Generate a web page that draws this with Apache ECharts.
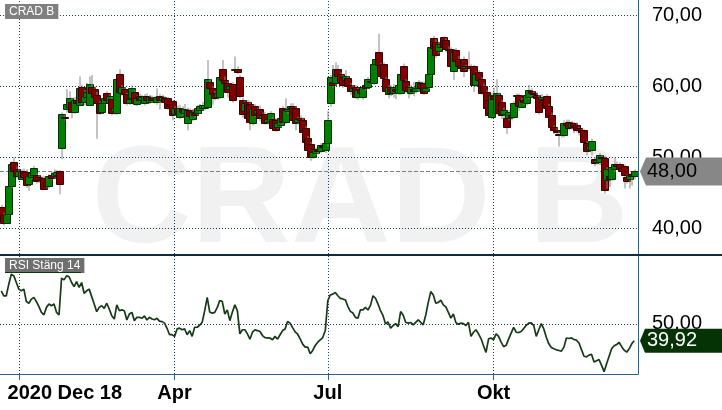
<!DOCTYPE html>
<html>
<head>
<meta charset="utf-8">
<script src="https://cdn.jsdelivr.net/npm/echarts@6/dist/echarts.min.js"></script>
<style>
html,body{margin:0;padding:0;background:#fff;}
#c{width:722px;height:410px;}
</style>
</head>
<body>
<div id="c"></div>
<script>
// ---- data ----
const startDate = '2020-12-18';
const endDate = '2021-12-21';
const holidays = ['2020-12-24','2020-12-25','2020-12-31','2021-01-01','2021-01-06','2021-04-02','2021-04-05','2021-05-13','2021-06-25'];
const tickDates = ['2021-01-04','2021-04-01','2021-07-01','2021-10-01'];
const tickTexts = ['2020 Dec 18','Apr','Jul','Okt'];
const priceTicks = [40,50,60,70];
const rsiTicks = [50];

const open = [
43.0,41.9,40.8,42.0,45.9,49.3,48.4,47.4,47.0,48.0,
47.9,46.2,47.2,47.5,47.5,47.2,46.8,47.1,46.5,45.9,
47.5,47.3,47.5,48.0,51.3,55.7,56.8,57.1,57.8,56.4,
58.0,57.4,59.9,57.8,58.5,57.4,59.9,59.6,58.8,57.6,
56.4,57.7,59.0,57.6,58.2,56.5,56.2,61.7,59.0,59.6,
58.9,57.7,58.4,59.2,57.5,58.7,58.0,57.6,58.7,57.8,
58.4,58.2,57.8,58.6,58.0,58.3,58.3,57.5,57.9,56.1,
56.9,55.7,56.8,56.2,54.8,56.6,55.4,56.3,56.2,56.6,
57.0,57.0,57.1,60.6,59.7,59.0,58.5,58.5,62.4,60.9,
60.4,59.6,60.3,62.3,62.5,61.3,58.1,56.5,57.8,57.5,
54.8,57.2,56.2,56.8,55.6,56.1,55.0,55.0,55.4,55.2,
54.3,54.5,56.9,55.0,56.5,56.9,57.2,56.9,55.0,55.6,
55.3,54.1,52.7,51.9,50.1,50.6,51.0,50.9,51.6,51.0,
52.0,57.6,60.6,60.4,62.4,61.8,61.3,60.9,61.1,60.2,
59.4,59.9,58.5,59.6,58.5,60.2,59.9,60.8,60.5,63.1,
64.9,63.0,63.1,61.0,58.9,59.9,59.0,59.6,59.1,59.1,
62.8,60.7,59.9,59.1,59.6,59.3,59.7,60.4,60.4,59.4,
59.9,61.7,66.8,66.3,65.0,65.6,66.9,66.5,65.1,65.2,
62.1,65.1,63.9,63.0,63.9,62.6,62.9,62.9,62.8,60.2,
62.0,61.0,60.0,59.2,58.1,55.7,58.6,56.3,58.8,57.8,
56.1,55.5,55.5,56.0,55.7,58.7,58.8,57.1,58.0,57.6,
58.5,59.4,59.0,58.8,58.5,58.2,58.2,58.6,57.2,56.0,
54.2,53.8,53.3,53.1,53.1,54.9,55.0,54.3,54.8,54.5,
54.1,53.8,53.8,52.0,51.2,51.0,49.7,49.4,49.4,50.0,
49.9,46.8,47.4,47.0,48.3,49.1,49.0,48.5,48.8,47.2,
46.9,47.6,47.3
];
const close = [
41.2,40.7,42.0,45.9,49.0,48.1,47.4,48.0,48.0,47.2,
46.1,47.3,47.8,48.5,46.6,46.8,47.0,45.5,45.9,47.3,
47.1,47.8,47.9,46.3,56.1,55.5,57.5,58.3,56.4,58.1,
57.6,59.7,57.8,58.6,59.2,60.3,59.0,58.5,57.6,56.3,
57.6,58.3,58.1,58.6,56.2,57.0,61.0,59.2,59.9,58.9,
57.6,58.2,59.8,57.6,58.4,58.1,58.5,58.6,58.1,58.5,
58.0,58.3,58.5,58.0,58.5,57.8,57.0,57.2,55.9,56.9,
56.2,57.0,56.4,56.8,56.7,55.8,56.4,56.0,57.0,57.2,
57.3,57.4,61.0,59.7,58.9,58.4,59.0,61.3,60.9,60.5,
59.2,60.0,58.0,62.5,62.0,58.6,56.1,57.6,55.6,55.0,
57.0,56.0,56.6,55.5,55.9,54.9,55.4,56.2,54.1,53.9,
54.8,55.6,55.0,56.7,56.8,57.2,55.3,54.8,55.4,55.3,
53.5,52.2,51.0,50.0,50.8,51.1,50.9,51.7,51.4,52.0,
55.3,61.3,60.2,62.5,61.4,60.6,60.2,61.4,60.0,59.4,
59.8,58.5,59.5,59.0,59.9,59.8,61.0,60.6,63.2,63.8,
63.0,61.5,61.1,59.4,59.9,59.1,59.9,59.3,60.2,61.7,
60.9,59.5,59.3,59.9,59.4,59.7,60.6,59.7,59.1,59.8,
61.8,65.5,65.4,64.4,66.0,65.9,65.5,65.2,65.3,62.8,
64.9,63.5,62.8,62.6,62.1,62.9,62.6,62.6,60.2,61.8,
60.9,59.1,59.2,56.9,56.0,58.8,58.2,59.0,56.2,56.0,
56.6,54.3,56.4,55.7,57.6,58.8,57.2,58.1,57.8,58.8,
59.5,59.1,58.9,58.3,56.4,58.5,58.0,57.0,55.7,54.2,
53.8,53.5,53.1,53.3,54.9,54.5,54.1,54.9,54.4,53.8,
53.8,53.6,52.1,50.9,51.6,52.3,49.2,49.6,50.3,49.9,
45.4,48.3,47.0,48.6,49.1,48.8,48.3,48.0,47.5,46.6,
47.5,47.4,48.0
];
const low = [
41.0,40.4,40.6,41.8,45.6,47.8,47.0,47.1,46.8,46.9,
45.7,45.3,46.9,47.2,46.3,46.4,46.5,45.4,45.6,45.6,
46.8,47.0,47.2,44.8,49.7,55.2,56.3,56.9,55.5,56.1,
57.2,57.2,57.5,57.3,58.0,57.2,58.5,58.2,52.6,56.0,
56.1,57.4,57.8,57.3,55.9,56.0,56.0,59.0,58.7,58.6,
57.3,57.4,58.1,57.3,57.2,57.8,57.5,57.3,57.6,57.5,
57.7,57.6,57.4,56.7,57.7,57.5,56.7,56.5,55.2,55.8,
55.9,55.4,55.8,55.9,53.8,55.3,55.1,55.6,55.9,56.2,
56.7,56.6,56.9,59.4,57.4,58.0,58.1,58.2,60.5,60.1,
58.4,58.0,57.7,62.0,61.7,58.3,55.6,56.1,55.3,53.8,
54.5,55.7,55.8,55.1,55.2,54.6,54.6,54.7,53.8,53.6,
54.0,54.2,54.6,54.7,56.1,56.5,54.8,53.8,54.6,54.9,
52.6,51.9,50.7,49.5,49.8,50.3,50.4,50.6,50.9,50.6,
51.5,57.1,59.8,60.1,60.8,60.2,59.8,60.5,59.6,58.8,
59.0,58.2,58.1,58.6,58.1,59.4,59.6,60.2,60.2,62.8,
62.6,61.2,60.5,58.8,58.3,58.6,58.4,58.2,58.8,58.8,
60.5,59.0,58.3,58.8,58.6,59.0,59.2,59.2,58.8,59.1,
59.6,61.4,65.0,64.0,64.6,65.3,65.2,64.8,64.9,62.4,
60.9,63.2,62.5,62.2,61.3,62.3,62.2,62.3,59.2,59.9,
60.6,58.8,58.0,56.4,55.6,55.4,57.2,56.0,55.8,55.4,
55.5,53.3,55.2,55.2,55.4,58.5,56.5,56.9,57.4,57.3,
58.2,58.6,58.5,58.0,56.0,57.9,57.5,56.7,55.0,53.8,
53.3,53.0,51.5,52.8,52.8,54.2,53.8,53.9,53.4,53.5,
53.1,53.2,51.8,50.3,50.8,50.3,48.8,49.0,48.9,49.5,
44.9,45.6,45.8,46.7,47.9,48.4,47.9,47.6,45.6,46.3,
45.6,46.0,46.9
];
const high = [
43.3,42.2,42.2,46.1,49.4,50.0,48.7,48.4,48.3,48.4,
48.3,47.6,48.1,48.8,47.8,47.5,47.3,47.4,46.8,47.6,
48.0,48.3,48.2,48.2,56.3,56.0,59.6,59.3,58.4,58.5,
59.0,61.4,60.2,59.5,60.5,61.4,61.6,60.0,59.2,57.9,
57.9,58.6,59.3,58.9,58.5,57.5,61.3,62.4,60.2,59.9,
59.1,58.6,60.1,59.5,58.7,59.0,58.8,58.9,59.0,58.8,
58.7,58.6,59.7,58.9,58.8,58.6,58.5,57.8,58.1,57.2,
57.3,57.4,57.2,57.5,57.0,56.9,56.8,56.6,57.4,57.5,
57.8,57.8,63.7,61.0,60.0,59.3,59.4,61.6,63.7,61.4,
60.7,60.4,60.6,64.2,62.8,61.6,58.4,58.0,58.1,57.9,
57.3,57.5,57.0,57.3,56.3,56.4,55.8,56.5,55.7,55.5,
55.1,55.9,57.2,58.3,57.2,57.6,57.6,57.2,55.7,55.9,
55.6,54.4,53.0,52.2,51.1,51.4,51.7,52.0,52.0,52.3,
56.5,61.6,63.0,63.4,63.0,62.0,61.6,62.3,61.4,60.5,
60.2,60.2,59.8,59.9,60.2,60.5,61.3,61.2,63.5,64.2,
67.4,63.3,63.4,61.3,60.2,60.2,60.3,60.0,60.5,62.0,
63.2,61.0,60.1,60.2,60.6,60.1,60.9,60.7,60.7,60.1,
62.1,65.8,67.1,66.6,66.3,66.3,67.0,66.8,65.6,65.5,
65.2,65.4,64.3,63.4,64.2,63.0,64.9,63.1,63.0,62.1,
62.3,61.3,60.4,59.5,58.4,59.1,59.8,61.0,59.1,58.1,
57.0,55.8,56.7,56.6,57.9,59.0,59.0,58.4,58.3,59.0,
60.2,59.7,59.3,59.2,58.8,58.9,58.5,58.9,57.5,56.3,
54.5,54.1,53.6,53.6,55.2,55.3,55.3,55.1,55.0,54.9,
54.3,54.0,54.0,52.3,52.0,52.6,50.0,50.0,50.6,50.3,
50.2,48.6,48.0,48.9,50.0,49.4,49.3,48.8,49.0,47.6,
47.8,48.0,48.3
];
const rsi = [
70,67,67,74,80,79,75,71,70,71,
63.5,62.5,65,66,63.5,60.5,57,55.5,60,62,
61,62,57,55.4,77.6,76.6,79,78.5,75,72.5,
75.5,72,75,68.5,70,71,66.5,62,57.4,60,
61,59.4,62.5,59,55,53,61.5,58,58.5,58,
52.4,56,57,52,54,54,53.4,54.8,52.4,54,
53,52.5,53.4,51.7,51.4,50.5,47.4,43.5,43.5,42.5,
47,47.5,46.5,47,43.5,46,42.5,48,48,49.2,
51,58,66,57.2,56.5,57,60,64.2,63.5,56,
58.5,52,57,61.5,58,44,46.5,46.5,44,40.8,
45,46.4,46,45.4,43,41.7,41.6,41.5,40.5,42.5,
40.8,43.5,46,47,51.5,50.5,47.8,45.2,43.8,41,
37.8,36,36,32,34,37,39,40.4,41.8,46,
64,67.5,68,69,67,65.4,65.1,64.5,60.5,57.6,
56.6,54,53.5,58.5,58.5,60,58.4,61.2,67,65.5,
62,58,55,50,51.2,47.5,49,50.2,48.4,57.5,
55.4,51,50.5,50.9,49.5,51,52.5,51,49.5,55.4,
63,69.5,67.5,62.5,63,64.3,61.5,60.3,57,53.5,
56,50.8,49.8,50.5,50.2,49,51,42.5,45,46.5,
44,41.2,36.8,32.8,41,41.5,40.5,44,42.5,39,
36.3,37.1,41,44.5,48,45,44.8,45.4,47.2,49.2,
50.5,50.7,49,42.5,46.5,50.2,47,42,38,35.8,
35,34.4,34,33.6,36,41.5,41.2,41.6,40.6,40.2,
38.5,34.5,30.5,30.1,31.2,31.7,27,27.8,28.5,25,
21.2,26,30.5,35,36.8,37.6,38.8,36.3,34.2,33,
35,38,39.92
];

// ---- categories (trading days) ----
function tradingDays(s, e, hol) {
  const out = [];
  const d = new Date(s + 'T00:00:00Z');
  const end = new Date(e + 'T00:00:00Z');
  while (d <= end) {
    const wd = d.getUTCDay();
    const str = d.toISOString().slice(0, 10);
    if (wd !== 0 && wd !== 6 && hol.indexOf(str) < 0) out.push(str);
    d.setUTCDate(d.getUTCDate() + 1);
  }
  return out;
}
const dates = tradingDays(startDate, endDate, holidays);

const candleData = open.map((o, i) => [i, o, close[i], low[i], high[i]]);
const fmt = v => Number(v).toFixed(2).replace('.', ',');
const isTick = (i, v) => tickDates.indexOf(v) >= 0;

const FONT = 'Liberation Sans, Arial, sans-serif';
const gridColor = '#1c3a57';
const axisColor = '#2f5f8f';

const chart = echarts.init(document.getElementById('c'), null, {renderer: 'canvas'});

const option = {
  animation: false,
  backgroundColor: '#ffffff',
  grid: [
    {left: 0, top: 0, width: 638, height: 254},
    {left: 0, top: 256, width: 638, height: 118}
  ],
  xAxis: [
    {type: 'category', gridIndex: 0, data: dates, boundaryGap: true,
     axisLine: {show: false}, axisTick: {show: false}, axisLabel: {show: false}, splitLine: {show: false}},
    {type: 'category', gridIndex: 1, data: dates, boundaryGap: true,
     axisLine: {show: true, lineStyle: {color: axisColor, width: 1}},
     axisTick: {show: true, alignWithLabel: true, interval: isTick, length: 6, lineStyle: {color: axisColor}},
     axisLabel: {interval: isTick, margin: 9, fontFamily: FONT, fontSize: 20, fontWeight: 'bold', color: '#000',
       formatter: function (v) {
         const k = tickDates.indexOf(v);
         if (k < 0) return '';
         return k === 0 ? '{first|' + tickTexts[k] + '}' : tickTexts[k];
       },
       rich: {first: {fontFamily: FONT, fontSize: 20, fontWeight: 'bold', color: '#000', padding: [0, 0, 0, 92]}}},
     splitLine: {show: false}}
  ],
  yAxis: [
    {type: 'value', gridIndex: 0, position: 'right', min: 36.38, max: 72.155, scale: true,
     axisLine: {show: true, lineStyle: {color: axisColor, width: 1}}, axisTick: {show: false}, splitLine: {show: false},
     axisLabel: {customValues: priceTicks, formatter: fmt, margin: 14, fontFamily: FONT, fontSize: 20, color: '#000'}},
    {type: 'value', gridIndex: 1, position: 'right', min: 19.8, max: 91.0, scale: true,
     axisLine: {show: true, lineStyle: {color: axisColor, width: 1}}, axisTick: {show: false}, splitLine: {show: false},
     axisLabel: {customValues: rsiTicks, formatter: fmt, margin: 14, fontFamily: FONT, fontSize: 20, color: '#000'}}
  ],
  series: [
    {type: 'line', xAxisIndex: 0, yAxisIndex: 0, data: [], z: 1, silent: true,
     markLine: {silent: true, symbol: 'none', z: 1, label: {show: false}, animation: false,
       data: priceTicks.map(v => ({yAxis: v, lineStyle: {color: gridColor, type: [1, 2], width: 1}}))
         .concat(tickDates.map(d => ({xAxis: d, lineStyle: {color: gridColor, type: [1, 2], width: 1}})))
         .concat([{yAxis: close[close.length - 1], lineStyle: {color: '#808080', type: [4, 2], width: 1}}])}},
    {type: 'custom', xAxisIndex: 0, yAxisIndex: 0, data: candleData, z: 3, clip: true,
     encode: {x: 0, y: [1, 2, 3, 4]},
     renderItem: function (params, api) {
       const i = api.value(0), o = api.value(1), c = api.value(2), l = api.value(3), h = api.value(4);
       const pO = api.coord([i, o]), pC = api.coord([i, c]);
       const pL = api.coord([i, l]), pH = api.coord([i, h]);
       const left = Math.round(pO[0] - 3.5) + 0.5;
       const wx = left + 3.5;
       const up = c >= o;
       const top = Math.round(Math.min(pO[1], pC[1])) + 0.5;
       const bot = Math.round(Math.max(pO[1], pC[1])) + 0.5;
       return {type: 'group', children: [
         {type: 'line', shape: {x1: wx, y1: pH[1], x2: wx, y2: pL[1]}, style: {stroke: '#888888', lineWidth: 1}},
         {type: 'rect', shape: {x: left, y: top, width: 7, height: Math.max(bot - top, 1)},
          style: {fill: up ? '#008000' : '#800000', stroke: up ? '#003000' : '#380000', lineWidth: 1}}
       ]};
     }},
    {type: 'line', xAxisIndex: 1, yAxisIndex: 1, data: rsi, z: 3, symbol: 'none', showSymbol: false,
     lineStyle: {color: '#163a16', width: 1.7}, silent: true,
     markLine: {silent: true, symbol: 'none', z: 1, label: {show: false}, animation: false,
       data: rsiTicks.map(v => ({yAxis: v, lineStyle: {color: gridColor, type: [1, 2], width: 1}}))
         .concat(tickDates.map(d => ({xAxis: d, lineStyle: {color: gridColor, type: [1, 2], width: 1}})))}}
  ]
};
chart.setOption(option);

const lastClose = close[close.length - 1];
const lastRsi = rsi[rsi.length - 1];
const yP = chart.convertToPixel({yAxisIndex: 0}, lastClose);
const yR = chart.convertToPixel({yAxisIndex: 1}, lastRsi);

chart.setOption({
  graphic: [
    {type: 'text', z: 0, silent: true, x: 360, y: 204,
     style: {text: 'CRAD B', fontFamily: FONT, fontSize: 138, fontWeight: 'bold', fill: '#f1f1f1', align: 'center', verticalAlign: 'middle'}},
    {type: 'rect', z: 20, silent: true, shape: {x: 0, y: 254, width: 722, height: 2}, style: {fill: '#0f2b3d'}},
    {type: 'text', z: 20, silent: true, x: 5, y: 4,
     style: {text: 'CRAD B', fontFamily: FONT, fontSize: 12, fill: '#ffffff', backgroundColor: '#7f7f7f', padding: [2, 4, 1, 4]}},
    {type: 'text', z: 20, silent: true, x: 5, y: 258,
     style: {text: 'RSI Stäng 14', fontFamily: FONT, fontSize: 12, fill: '#ffffff', backgroundColor: '#6f6f6f', padding: [2, 4, 1, 4]}},
    {type: 'rect', z: 21, silent: true, shape: {x: 5, y: 272, width: 76, height: 1}, style: {fill: '#0a3a0a'}},
    {type: 'polygon', z: 20, silent: true,
     shape: {points: [[640, yP], [646, yP - 14], [722, yP - 14], [722, yP + 14], [646, yP + 14]]}, style: {fill: '#878787'}},
    {type: 'text', z: 21, silent: true, x: 647, y: yP,
     style: {text: fmt(lastClose), fontFamily: FONT, fontSize: 20, fill: '#000', verticalAlign: 'middle'}},
    {type: 'polygon', z: 20, silent: true,
     shape: {points: [[640, yR], [645, yR - 12], [722, yR - 12], [722, yR + 12], [645, yR + 12]]}, style: {fill: '#063306'}},
    {type: 'text', z: 21, silent: true, x: 647, y: yR,
     style: {text: fmt(lastRsi), fontFamily: FONT, fontSize: 20, fill: '#fff', verticalAlign: 'middle'}}
  ]
});
</script>
</body>
</html>
